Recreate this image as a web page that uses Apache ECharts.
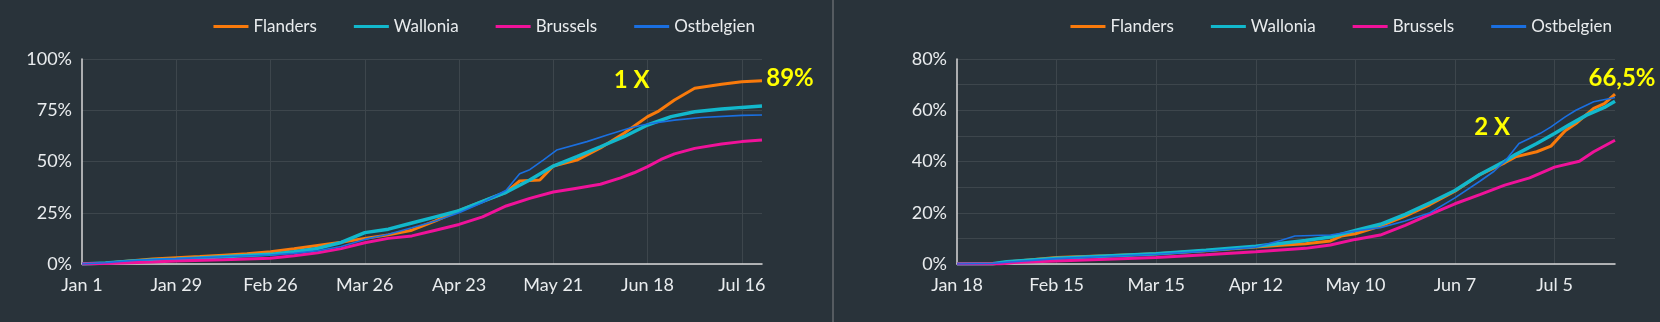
<!DOCTYPE html>
<html><head><meta charset="utf-8">
<script src="https://cdn.jsdelivr.net/npm/echarts@6.0.0/dist/echarts.min.js"></script>
<style>html,body{margin:0;padding:0;background:#29333a;overflow:hidden}#c{width:1660px;height:322px}</style>
</head><body><div id="c"></div>
<script>
// ---- data (x = day index from first date, y = % vaccinated) ----
const seriesNames = ['Flanders', 'Wallonia', 'Brussels', 'Ostbelgien'];
const leftTickLabels = ['Jan 1', 'Jan 29', 'Feb 26', 'Mar 26', 'Apr 23', 'May 21', 'Jun 18', 'Jul 16'];
const rightTickLabels = ['Jan 18', 'Feb 15', 'Mar 15', 'Apr 12', 'May 10', 'Jun 7', 'Jul 5'];
const leftLastDay = 202;   // Jan 1 .. Jul 22
const rightLastDay = 185;  // Jan 18 .. Jul 22

// left chart: first dose ("1 X")
const leftFlanders = [[0,0],[7,0.4],[14,1.5],[21,2.4],[28,3.1],[35,3.6],[42,4.3],[49,5.0],[56,6.0],[63,7.4],[70,9.0],[77,10.6],[84,12.5],[91,14.2],[98,16.5],[105,21],[112,26],[119,30.5],[126,35],[130,40.5],[136,41],[140,47.8],[147,50.7],[154,56.6],[161,63.8],[168,71.9],[171,74.3],[176,80],[182,85.7],[190,87.7],[196,88.9],[202,89.4]];
const leftWallonia = [[0,0],[7,0.5],[14,1.3],[21,1.9],[28,2.3],[42,3.5],[56,4.7],[63,6],[70,7.6],[77,10.5],[84,15.3],[91,17],[98,20],[105,23],[112,26],[119,30.5],[126,35],[133,41],[140,47.8],[147,52.4],[154,57.2],[161,62.1],[168,67.8],[175,71.9],[182,74.3],[190,75.6],[196,76.4],[202,77.1]];
const leftBrussels = [[0,0],[7,0.2],[14,0.6],[21,1.0],[28,1.5],[42,2.1],[56,2.8],[63,4],[70,5.5],[77,7.5],[84,10.4],[91,12.5],[98,13.7],[105,16.5],[112,19.3],[119,23],[126,28.3],[133,32],[140,35.1],[147,37],[154,38.9],[160,42],[164,44.5],[168,47.5],[172,51],[176,53.7],[182,56.4],[190,58.5],[196,59.7],[202,60.5]];
const leftOstbelgien = [[0,0],[7,0.6],[14,1.6],[21,2.2],[28,2.6],[42,3.5],[56,4.4],[63,5.2],[70,6.5],[77,8.5],[84,12],[91,14.5],[98,17.7],[105,21],[112,25],[119,30],[126,36],[130,44],[133,46],[137,50.7],[141,55.6],[150,59.7],[156,62.9],[163,66.5],[168,68.3],[176,70.2],[184,71.5],[196,72.5],[202,72.7]];

// right chart: fully vaccinated ("2 X")
const rightFlanders = [[0,0],[10,0],[14,0.8],[28,2.5],[42,3.2],[56,4.0],[70,5.2],[84,6.6],[91,7.3],[98,7.9],[105,9.0],[108,10.9],[112,11.8],[119,14.8],[126,18.7],[133,23.2],[140,28.4],[147,34.9],[154,39.5],[157,41.8],[163,43.8],[167,46],[171,52],[174,54.8],[179,60.7],[182,62.6],[185,66.3]];
const rightWallonia = [[0,0],[10,0.1],[14,0.9],[28,2.2],[42,3.1],[56,4.0],[70,5.4],[84,6.9],[98,9.2],[105,10.5],[112,13.1],[119,15.5],[126,19.4],[133,23.9],[140,28.7],[147,34.9],[154,40.1],[157,42.7],[163,47],[168,50.9],[172,54.2],[177,58.1],[182,61.1],[185,63.5]];
const rightBrussels = [[0,0],[12,0],[16,0.6],[28,1.2],[42,1.9],[56,2.5],[70,3.6],[84,4.8],[98,6.1],[105,7.4],[112,9.6],[119,11.3],[126,15.1],[133,19.4],[140,23.5],[147,27.1],[154,30.8],[161,33.6],[168,37.8],[175,40.1],[179,43.8],[185,48.3]];
const rightOstbelgien = [[0,0],[10,0.2],[14,0.7],[28,2.1],[42,2.9],[56,3.8],[70,5.0],[84,6.6],[91,9.2],[95,10.9],[105,11.3],[112,12.9],[119,14.2],[126,16.8],[133,20],[140,25.8],[147,32.3],[151,36.2],[154,40],[158,47],[164,51],[167,53.5],[171,57.4],[174,60],[179,63.3],[185,65]];

const annotations = {left: {text: '1 X', coord: [163.3, 89.8]}, right: {text: '2 X', coord: [150.5, 53.4]}};
const endLabels = {left: '89%', right: '66,5%'};

// ---- styling ----
const colors = {Flanders: '#f97a0b', Wallonia: '#12b8cc', Brussels: '#f0129a', Ostbelgien: '#1a6fe0'};
const widths = {Flanders: 3, Wallonia: 3.5, Brussels: 3, Ostbelgien: 1.6};
const textColor = '#e9ecee';
const gridColor = '#3d464c';
const axisColor = '#d9d9d9';
const FONT = 'Lato';

function xAxis(gi, maxDay, labels) {
  return {
    type: 'value', gridIndex: gi, min: 0, max: maxDay, interval: 28,
    axisLine: {show: true, lineStyle: {color: axisColor, width: 1.5}},
    axisTick: {show: false},
    axisLabel: {color: textColor, fontSize: 18, fontFamily: FONT, margin: 12, showMaxLabel: false,
      formatter: v => (v % 28 === 0 && labels[v / 28] !== undefined) ? labels[v / 28] : ''},
    splitLine: {show: true, showMaxLine: false, showMinLine: false, lineStyle: {color: gridColor, width: 1}}
  };
}
function yAxis(gi, max, interval, labelEvery) {
  return {
    type: 'value', gridIndex: gi, min: 0, max: max, interval: interval,
    axisLine: {show: true, lineStyle: {color: axisColor, width: 1.5}},
    axisTick: {show: false},
    axisLabel: {color: textColor, fontSize: 18, fontFamily: FONT, margin: 10,
      formatter: v => (v % labelEvery === 0) ? v + '%' : ''},
    splitLine: {show: true, lineStyle: {color: gridColor, width: 1}}
  };
}
function line(name, data, idx, extra) {
  const s = {
    name: name, type: 'line', xAxisIndex: idx, yAxisIndex: idx, data: data,
    showSymbol: false, symbol: 'none', animation: false,
    lineStyle: {color: colors[name], width: widths[name]},
    itemStyle: {color: colors[name]}
  };
  return Object.assign(s, extra || {});
}
const labelStyle = {color: '#ffff00', fontSize: 24, fontWeight: 'bold', fontFamily: FONT};
function marks(side, endData, endOffset) {
  const last = endData[endData.length - 1];
  return {markPoint: {silent: true, symbol: 'circle', symbolSize: 0, animation: false,
    data: [
      {coord: annotations[side].coord, label: Object.assign({show: true, position: 'inside', formatter: annotations[side].text}, labelStyle)},
      {coord: last, label: Object.assign({show: true, position: 'inside', offset: endOffset, formatter: endLabels[side]}, labelStyle)}
    ]}};
}

const chart = echarts.init(document.getElementById('c'), null, {renderer: 'canvas'});
const legendBase = {
  data: seriesNames.map(n => ({name: n, icon: 'rect', itemStyle: {color: colors[n]}})),
  top: 13, itemWidth: 35, itemHeight: 3, itemGap: 37,
  textStyle: {color: textColor, fontSize: 17, fontFamily: FONT}, selectedMode: false
};
chart.setOption({
  backgroundColor: '#29333a',
  animation: false,
  textStyle: {fontFamily: FONT},
  legend: [Object.assign({right: 900}, legendBase), Object.assign({right: 43}, legendBase)],
  grid: [
    {left: 82, right: 898, top: 59, bottom: 58},
    {left: 957, right: 45, top: 59, bottom: 58}
  ],
  xAxis: [xAxis(0, leftLastDay, leftTickLabels), xAxis(1, rightLastDay, rightTickLabels)],
  yAxis: [yAxis(0, 100, 25, 25), yAxis(1, 80, 10, 20)],
  graphic: [{type: 'line', shape: {x1: 833, y1: 0, x2: 833, y2: 322}, style: {stroke: '#555b60', lineWidth: 2}, silent: true}],
  series: [
    line('Flanders', leftFlanders, 0, marks('left', leftFlanders, [28, -2])),
    line('Wallonia', leftWallonia, 0),
    line('Brussels', leftBrussels, 0),
    line('Ostbelgien', leftOstbelgien, 0),
    line('Flanders', rightFlanders, 1, marks('right', rightFlanders, [7, -16])),
    line('Wallonia', rightWallonia, 1),
    line('Brussels', rightBrussels, 1),
    line('Ostbelgien', rightOstbelgien, 1)
  ]
});
</script>
</body></html>
